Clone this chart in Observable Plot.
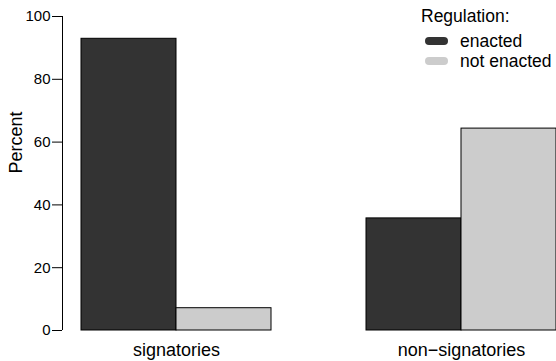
<!DOCTYPE html>
<html>
<head>
<meta charset="utf-8">
<script src="https://cdn.jsdelivr.net/npm/d3@7"></script>
<script src="https://cdn.jsdelivr.net/npm/@observablehq/plot@0.6"></script>
<style>
  html, body { margin: 0; padding: 0; background: #fff; overflow: hidden; }
  #wrap { position: relative; width: 556px; height: 361px; overflow: hidden;
          font-family: "Liberation Sans", Arial, Helvetica, sans-serif; color: #000; }
  #wrap svg { overflow: hidden; }
  .lg { position: absolute; font-size: 17.5px; line-height: 20px; white-space: nowrap; }
  .key { position: absolute; width: 23px; height: 8px; border-radius: 4px; }
</style>
</head>
<body>
<div id="wrap"></div>
<script>
// ---- data ----
const groups = ["signatories", "non\u2212signatories"];
const seriesNames = ["enacted", "not enacted"];
const enacted = [92.9, 35.7];
const notEnacted = [7.1, 64.3];
const yTicks = [0, 20, 40, 60, 80, 100];
const colors = ["#333333", "#cccccc"];
const legendTitle = "Regulation:";
const yLabel = "Percent";

// R barplot(beside = TRUE) layout: bar width 1, space between groups 1
const rows = [];
groups.forEach((g, gi) => {
  [enacted, notEnacted].forEach((vals, si) => {
    rows.push({group: g, series: seriesNames[si], value: vals[gi], slot: 1 + gi * 3 + si});
  });
});
const xmin = d3.min(rows, d => d.slot), xmax = d3.max(rows, d => d.slot + 1);
const ext = 0.04 * (xmax - xmin);
const xDomain = [xmin - ext, xmax + ext];

const chart = Plot.plot({
  width: 556,
  height: 361,
  marginLeft: 62,
  marginRight: 0,
  marginTop: 16,
  marginBottom: 31,
  style: {fontFamily: '"Liberation Sans", Arial, Helvetica, sans-serif', fontSize: "15px", color: "black", background: "white"},
  x: {domain: xDomain, range: [62, 575], axis: null},
  y: {domain: [yTicks[0], yTicks[yTicks.length - 1]], axis: null},
  color: {domain: seriesNames, range: colors},
  marks: [
    Plot.rect(rows, {x1: "slot", x2: d => d.slot + 1, y1: () => 0, y2: "value", fill: "series", stroke: "black", strokeWidth: 1}),
    Plot.ruleX([xDomain[0]], {y1: yTicks[0], y2: yTicks[yTicks.length - 1], stroke: "black", strokeWidth: 1}),
    Plot.axisY({ticks: yTicks, tickSize: 10, tickPadding: 2, fontSize: 15, label: null, stroke: "black"}),
    Plot.text([yLabel], {frameAnchor: "left", dx: -46, rotate: -90, fontSize: 18, fill: "black"}),
    Plot.text(groups, {x: (d, i) => 2 + 3 * i, frameAnchor: "bottom", lineAnchor: "bottom", dy: 25, fontSize: 18, fill: "black"})
  ]
});

const wrap = document.getElementById("wrap");
wrap.appendChild(chart);

// legend
const t = document.createElement("div");
t.className = "lg";
t.style.left = "421px";
t.style.top = "6px";
t.textContent = legendTitle;
wrap.appendChild(t);
seriesNames.forEach((s, i) => {
  const k = document.createElement("div");
  k.className = "key";
  k.style.left = "425px";
  k.style.top = (37 + i * 20) + "px";
  k.style.background = colors[i];
  wrap.appendChild(k);
  const l = document.createElement("div");
  l.className = "lg";
  l.style.left = "460px";
  l.style.top = (31 + i * 20) + "px";
  l.textContent = s;
  wrap.appendChild(l);
});
</script>
</body>
</html>
